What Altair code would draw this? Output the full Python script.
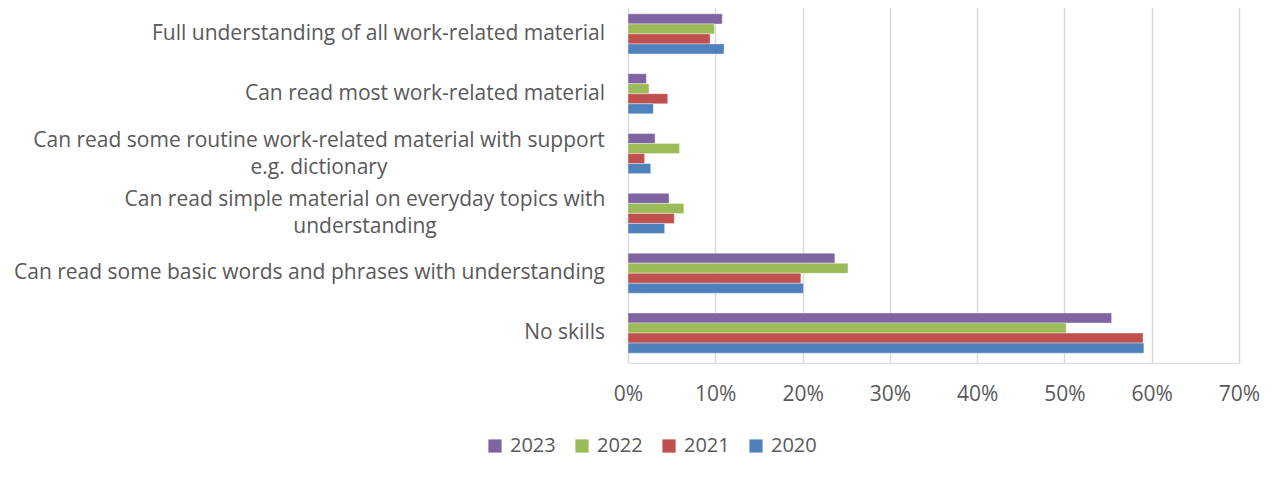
import altair as alt
import pandas as pd

categories = [
    "Full understanding of all work-related material",
    "Can read most work-related material",
    "Can read some routine work-related material with support e.g. dictionary",
    "Can read simple material on everyday topics with understanding",
    "Can read some basic words and phrases with understanding",
    "No skills",
]
label_single = [
    "Full understanding of all work-related material",
    "Can read most work-related material",
    "Can read some basic words and phrases with understanding",
    "No skills",
]
label_wrapped = [
    "Can read some routine work-related material with support\ne.g. dictionary",
    "Can read simple material on everyday topics with\nunderstanding",
]
years = ["2023", "2022", "2021", "2020"]
v2023 = [0.108, 0.021, 0.031, 0.047, 0.237, 0.554]
v2022 = [0.099, 0.024, 0.059, 0.064, 0.252, 0.502]
v2021 = [0.094, 0.0455, 0.019, 0.053, 0.198, 0.590]
v2020 = [0.110, 0.029, 0.026, 0.042, 0.201, 0.591]
colors = ["#8064A2", "#9BBB59", "#C0504D", "#4F81BD"]
x_ticks = [0, 0.1, 0.2, 0.3, 0.4, 0.5, 0.6, 0.7]

FONT = "Open Sans"
GREY = "#595959"

rows = []
for yr, vals in zip(years, [v2023, v2022, v2021, v2020]):
    for c, v in zip(categories, vals):
        rows.append({"category": c, "year": yr, "value": v})
df = pd.DataFrame(rows)

single_df = pd.DataFrame({
    "category": [categories[0], categories[1], categories[4], categories[5]],
    "label": label_single,
})
wrapped_df = pd.DataFrame({
    "category": [categories[2], categories[3]],
    "label": label_wrapped,
    "center": [-309, -263],
})

yscale = alt.Scale(domain=categories, paddingInner=0.33, paddingOuter=0.165)

bars = alt.Chart(df).mark_bar(stroke="white", strokeWidth=0.6, strokeOpacity=0.6).encode(
    x=alt.X("value:Q",
            scale=alt.Scale(domain=[0, 0.7], nice=False),
            axis=alt.Axis(values=x_ticks, format=".0%", title=None, grid=True,
                          gridColor="#D9D9D9", gridWidth=1.5, ticks=False, domain=False,
                          labelFontSize=21, labelColor=GREY, labelFont=FONT,
                          labelPadding=20, labelFlush=False, labelOverlap=False)),
    y=alt.Y("category:N", scale=yscale, axis=None),
    yOffset=alt.YOffset("year:N", sort=years, scale=alt.Scale(paddingInner=0)),
    color=alt.Color("year:N",
                    scale=alt.Scale(domain=years, range=colors),
                    legend=alt.Legend(orient="none", legendX=-143, legendY=432,
                                      direction="horizontal", title=None,
                                      symbolType="square", symbolSize=175,
                                      symbolStrokeWidth=0, labelFontSize=20,
                                      labelColor=GREY, labelFont=FONT,
                                      columnPadding=16, labelOffset=5)),
)

txt_single = alt.Chart(single_df).mark_text(
    align="right", baseline="middle", fontSize=21, font=FONT, color=GREY
).encode(
    y=alt.Y("category:N", scale=yscale, axis=None),
    x=alt.value(-23),
    text="label:N",
)

txt_wrapped = alt.Chart(wrapped_df).mark_text(
    align="center", baseline="middle", fontSize=21, font=FONT, color=GREY,
    lineBreak="\n", lineHeight=27, dy=-13
).encode(
    y=alt.Y("category:N", scale=yscale, axis=None),
    x=alt.X("center:Q", scale=None),
    text="label:N",
)

chart = alt.layer(bars, txt_single, txt_wrapped).properties(
    width=611, height=359,
    autosize=alt.AutoSizeParams(type="none"),
    padding={"left": 620, "top": -4, "right": 40, "bottom": 114},
).configure_view(stroke=None).configure(font=FONT)

chart.save("out.html", embed_options={"renderer": "svg", "actions": False})
